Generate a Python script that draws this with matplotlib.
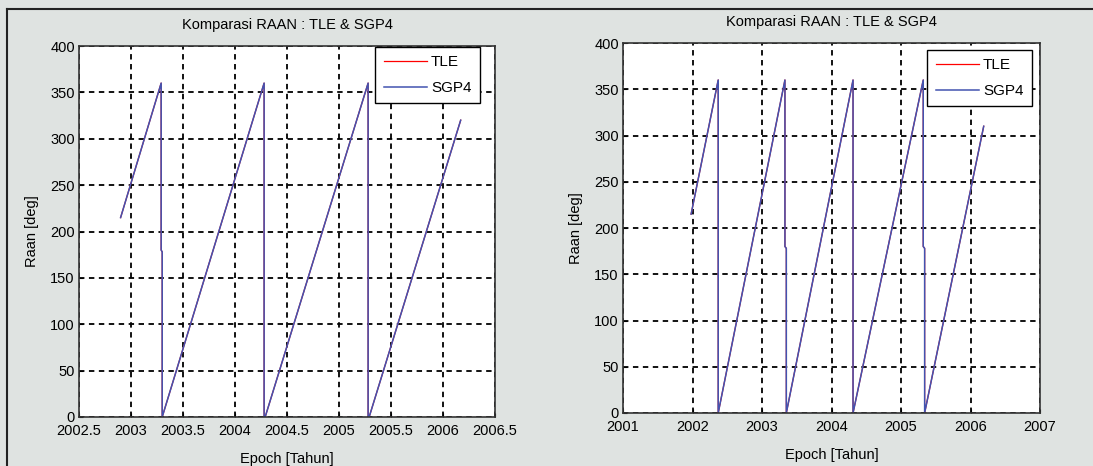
import matplotlib.pyplot as plt
from matplotlib.lines import Line2D

# data (epoch in years, RAAN in degrees)
left_epoch = [2002.90, 2003.29, 2003.29, 2003.30, 2003.30, 2004.28, 2004.28, 2004.29, 2005.28, 2005.28, 2005.29, 2006.17]
left_raan = [215, 360, 180, 178, 0, 360, 0, 0, 360, 0, 0, 320]

right_epoch = [2001.98, 2002.37, 2002.37, 2003.33, 2003.33, 2003.35, 2003.35, 2004.31, 2004.31, 2005.32, 2005.32, 2005.34, 2005.34, 2006.19]
right_raan = [215, 360, 0, 360, 180, 178, 0, 360, 0, 360, 180, 178, 0, 310]

left_xticks = [2002.5, 2003, 2003.5, 2004, 2004.5, 2005, 2005.5, 2006, 2006.5]
left_xlabels = ['2002.5', '2003', '2003.5', '2004', '2004.5', '2005', '2005.5', '2006', '2006.5']
right_xticks = [2001, 2002, 2003, 2004, 2005, 2006, 2007]
right_xlabels = ['2001', '2002', '2003', '2004', '2005', '2006', '2007']
yticks = [0, 50, 100, 150, 200, 250, 300, 350, 400]

plt.rcParams['font.family'] = ['Liberation Sans', 'DejaVu Sans']

W, H = 1093, 466
fig = plt.figure(figsize=(W / 100, H / 100), dpi=100)
fig.patch.set_facecolor('#dfe3e1')

# top and left edge of the scanned figure frame
fig.add_artist(Line2D([7 / W, 1], [1 - 9 / H, 1 - 9 / H], transform=fig.transFigure,
                      color='#222222', linewidth=1.5))
fig.add_artist(Line2D([7 / W, 7 / W], [0, 1 - 9 / H], transform=fig.transFigure,
                      color='#222222', linewidth=1.5))


def make_axes(box, ep, ra, xlim, xticks, xlabels, leg_gap):
    x0, y0, x1, y1 = box
    ax = fig.add_axes([x0 / W, 1 - y1 / H, (x1 - x0) / W, (y1 - y0) / H])
    ax.set_facecolor('white')
    ax.plot(ep, ra, color='red', linewidth=0.9, label='TLE')
    ax.plot(ep, ra, color='#4253b0', linewidth=1.1, label='SGP4')
    ax.set_xlim(xlim)
    ax.set_ylim(0, 400)
    ax.set_xticks(xticks)
    ax.set_xticklabels(xlabels)
    ax.set_yticks(yticks)
    ax.tick_params(labelsize=10.5, length=3, direction='in')
    ax.tick_params(axis='x', pad=5)
    ax.tick_params(axis='y', pad=3)
    ax.grid(True, color='black', linestyle=(0, (3, 2.5)), linewidth=1.3)
    for s in ax.spines.values():
        s.set_linewidth(1.2)
        s.set_color('#333333')
    ax.set_title('Komparasi RAAN : TLE & SGP4', fontsize=10.5, pad=12)
    ax.set_xlabel('Epoch [Tahun]', fontsize=10.5, labelpad=10)
    ax.set_ylabel('Raan [deg]', fontsize=10.5, labelpad=8)
    leg = ax.legend(loc='upper right',
                    bbox_to_anchor=(1 - leg_gap[0] / (x1 - x0), 1.0 - leg_gap[1] / (y1 - y0)),
                    fontsize=11, frameon=True, fancybox=False, framealpha=1,
                    borderaxespad=0, handlelength=2.8, handletextpad=0.3,
                    labelspacing=0.75, borderpad=0.55)
    leg.get_frame().set_edgecolor('black')
    leg.get_frame().set_linewidth(1.0)
    return ax


make_axes((79, 46, 495, 417), left_epoch, left_raan, (2002.5, 2006.5), left_xticks, left_xlabels, (15, 1))
make_axes((623, 43, 1040, 413), right_epoch, right_raan, (2001, 2007), right_xticks, right_xlabels, (8, 7))

fig.savefig('out.png', dpi=100, facecolor=fig.get_facecolor())
